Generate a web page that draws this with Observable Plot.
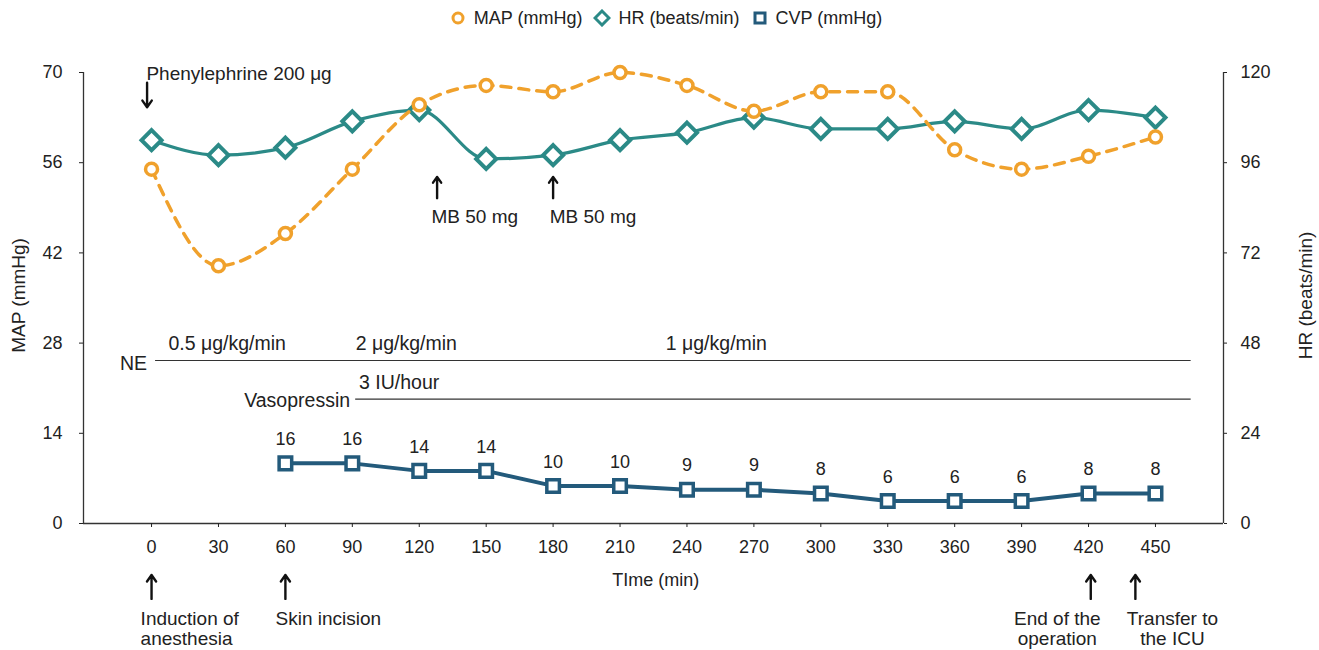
<!DOCTYPE html>
<html>
<head>
<meta charset="utf-8">
<script src="https://cdn.jsdelivr.net/npm/d3@7"></script>
<script src="https://cdn.jsdelivr.net/npm/@observablehq/plot@0.6"></script>
<style>
  body { margin: 0; background: #fff; font-family: "Liberation Sans", Arial, sans-serif; color: #222; }
  #legend { height: 36px; display: flex; align-items: center; justify-content: center; gap: 11px; font-size: 18px; padding-left: 12px; box-sizing: border-box; width: 1319px; }
  #legend .item { display: flex; align-items: center; gap: 7px; }
  #legend svg { display: block; }
</style>
</head>
<body>
<div id="legend"></div>
<div id="chart"></div>
<script>
// ---- data ----
const times = [0, 30, 60, 90, 120, 150, 180, 210, 240, 270, 300, 330, 360, 390, 420, 450];
const mapValues = [55, 40, 45, 55, 65, 68, 67, 70, 68, 64, 67, 67, 58, 55, 57, 60];
const hrValues = [102, 98, 100, 107, 110, 97, 98, 102, 104, 108, 105, 105, 107, 105, 110, 108];
const cvpTimes = [60, 90, 120, 150, 180, 210, 240, 270, 300, 330, 360, 390, 420, 450];
const cvpValues = [16, 16, 14, 14, 10, 10, 9, 9, 8, 6, 6, 6, 8, 8];
const xTicks = [0, 30, 60, 90, 120, 150, 180, 210, 240, 270, 300, 330, 360, 390, 420, 450];
const leftTicks = [0, 14, 28, 42, 56, 70];
const rightTicks = [0, 24, 48, 72, 96, 120];
const seriesNames = ["MAP (mmHg)", "HR (beats/min)", "CVP (mmHg)"];

const C_MAP = "#F0A12C", C_HR = "#2B8A87", C_CVP = "#235A7B";
const LEFT_MAX = 70, RIGHT_MAX = 120;
const toLeft = v => v * LEFT_MAX / RIGHT_MAX;

const mapData = times.map((t, i) => ({t, v: mapValues[i]}));
const hrData = times.map((t, i) => ({t, v: toLeft(hrValues[i])}));
const cvpData = cvpTimes.map((t, i) => ({t, v: toLeft(cvpValues[i]), label: String(cvpValues[i])}));

// annotations (in data coordinates: time, MAP units)
const topTexts = [
  {t: -2.3, v: 69.8, text: "Phenylephrine 200 μg"},
  {t: 125.5, v: 47.6, text: "MB 50 mg"},
  {t: 178.5, v: 47.6, text: "MB 50 mg"}
];
const topArrows = [
  {t: -2, v1: 68.4, v2: 64.6},
  {t: 128, v1: 50.5, v2: 53.8},
  {t: 180, v1: 50.5, v2: 53.8}
];
const infusionLines = [
  {t1: 1.8, t2: 466, v: 25.3},
  {t1: 91.5, t2: 466, v: 19.3}
];
const infusionTexts = [
  {t: 7.6, v: 27.9, text: "0.5 μg/kg/min", anchor: "start"},
  {t: 91.5, v: 27.9, text: "2 μg/kg/min", anchor: "start"},
  {t: 230.5, v: 27.9, text: "1 μg/kg/min", anchor: "start"},
  {t: 93, v: 21.8, text: "3 IU/hour", anchor: "start"},
  {t: -2, v: 24.8, text: "NE", anchor: "end"},
  {t: 89, v: 19.0, text: "Vasopressin", anchor: "end"}
];
const bottomArrows = [
  {t: 0, v1: -11.7, v2: -8.0},
  {t: 60, v1: -11.7, v2: -8.0},
  {t: 421, v1: -11.7, v2: -8.0},
  {t: 441, v1: -11.7, v2: -8.0}
];
const bottomTexts = [
  {t: -4.9, v: -14.75, text: "Induction of", anchor: "start"},
  {t: -4.9, v: -17.85, text: "anesthesia", anchor: "start"},
  {t: 55.6, v: -14.75, text: "Skin incision", anchor: "start"},
  {t: 406, v: -14.75, text: "End of the", anchor: "middle"},
  {t: 406, v: -17.85, text: "operation", anchor: "middle"},
  {t: 457.6, v: -14.75, text: "Transfer to", anchor: "middle"},
  {t: 457.6, v: -17.85, text: "the ICU", anchor: "middle"}
];

const X0 = -30.5, X1 = 480.5;

// ---- legend ----
const legend = document.getElementById("legend");
const legendSymbols = [
  `<circle cx="9" cy="9" r="5" fill="#fff" stroke="${C_MAP}" stroke-width="3"/>`,
  `<path d="M9 2 L16 9 L9 16 L2 9 Z" fill="#fff" stroke="${C_HR}" stroke-width="3"/>`,
  `<rect x="4" y="4" width="10" height="10" fill="#fff" stroke="${C_CVP}" stroke-width="3"/>`
];
seriesNames.forEach((name, i) => {
  const el = document.createElement("div");
  el.className = "item";
  el.innerHTML = `<svg width="18" height="18">${legendSymbols[i]}</svg><span>${name}</span>`;
  legend.appendChild(el);
});

const byAnchor = a => d => d.anchor === a;
const FS = 19;

// ---- chart ----
const chart = Plot.plot({
  width: 1319,
  height: 614,
  marginLeft: 83,
  marginRight: 96,
  marginTop: 36,
  marginBottom: 127,
  style: {fontFamily: "'Liberation Sans', Arial, sans-serif", fontSize: "18px", color: "#222", background: "#fff", overflow: "visible"},
  x: {domain: [X0, X1]},
  y: {domain: [0, LEFT_MAX]},
  marks: [
    // axis lines
    Plot.ruleY([0], {x1: X0, x2: X1, stroke: "#333", strokeWidth: 1.3}),
    Plot.ruleX([X0], {y1: 0, y2: LEFT_MAX, stroke: "#333", strokeWidth: 1.3}),
    Plot.ruleX([X1], {y1: 0, y2: LEFT_MAX, stroke: "#333", strokeWidth: 1.3}),
    Plot.axisY(leftTicks, {anchor: "left", tickSize: 4, tickPadding: 17, fontSize: 18, label: null}),
    Plot.axisY(rightTicks.map(toLeft), {anchor: "right", tickSize: 3, tickPadding: 14, fontSize: 18, label: null,
      tickFormat: d => String(Math.round(d * RIGHT_MAX / LEFT_MAX))}),
    Plot.axisX(xTicks, {anchor: "bottom", tickSize: 4, tickPadding: 13, fontSize: 18, label: null}),
    // axis titles
    Plot.text(["MAP (mmHg)"], {x: () => -59.6, y: () => 35.4, rotate: -90, fontSize: FS, text: d => d}),
    Plot.text(["HR (beats/min)"], {x: () => 517.3, y: () => 35.4, rotate: -90, fontSize: FS, text: d => d}),
    Plot.text(["TIme (min)"], {x: () => 226, y: () => -8.8, fontSize: 18, text: d => d}),
    // infusion lines
    Plot.ruleY(infusionLines, {y: "v", x1: "t1", x2: "t2", stroke: "#333", strokeWidth: 1.2}),
    Plot.text(infusionTexts, {filter: byAnchor("start"), x: "t", y: "v", text: "text", textAnchor: "start", fontSize: 19.5}),
    Plot.text(infusionTexts, {filter: byAnchor("end"), x: "t", y: "v", text: "text", textAnchor: "end", fontSize: 19.5}),
    // HR
    Plot.line(hrData, {x: "t", y: "v", curve: "monotone-x", stroke: C_HR, strokeWidth: 3.2}),
    Plot.dot(hrData, {x: "t", y: "v", symbol: "diamond2", r: 9, stroke: C_HR, strokeWidth: 4, fill: "#fff"}),
    // MAP
    Plot.line(mapData, {x: "t", y: "v", curve: "monotone-x", stroke: C_MAP, strokeWidth: 3.5, strokeDasharray: "10,8"}),
    Plot.dot(mapData, {x: "t", y: "v", r: 6, stroke: C_MAP, strokeWidth: 3.5, fill: "#fff"}),
    // CVP
    Plot.line(cvpData, {x: "t", y: "v", stroke: C_CVP, strokeWidth: 4}),
    Plot.dot(cvpData, {x: "t", y: "v", symbol: "square2", r: 8, stroke: C_CVP, strokeWidth: 3.5, fill: "#fff"}),
    Plot.text(cvpData, {x: "t", y: "v", text: "label", dy: -24, fontSize: 18}),
    // annotations
    Plot.text(topTexts, {x: "t", y: "v", text: "text", textAnchor: "start", fontSize: FS}),
    Plot.arrow(topArrows, {x1: "t", x2: "t", y1: "v1", y2: "v2", stroke: "#111", strokeWidth: 2.4, headLength: 10, headAngle: 70}),
    Plot.arrow(bottomArrows, {x1: "t", x2: "t", y1: "v1", y2: "v2", stroke: "#111", strokeWidth: 2.4, headLength: 10, headAngle: 70}),
    Plot.text(bottomTexts, {filter: byAnchor("start"), x: "t", y: "v", text: "text", textAnchor: "start", fontSize: FS}),
    Plot.text(bottomTexts, {filter: byAnchor("middle"), x: "t", y: "v", text: "text", textAnchor: "middle", fontSize: FS})
  ]
});
document.getElementById("chart").appendChild(chart);
</script>
</body>
</html>
